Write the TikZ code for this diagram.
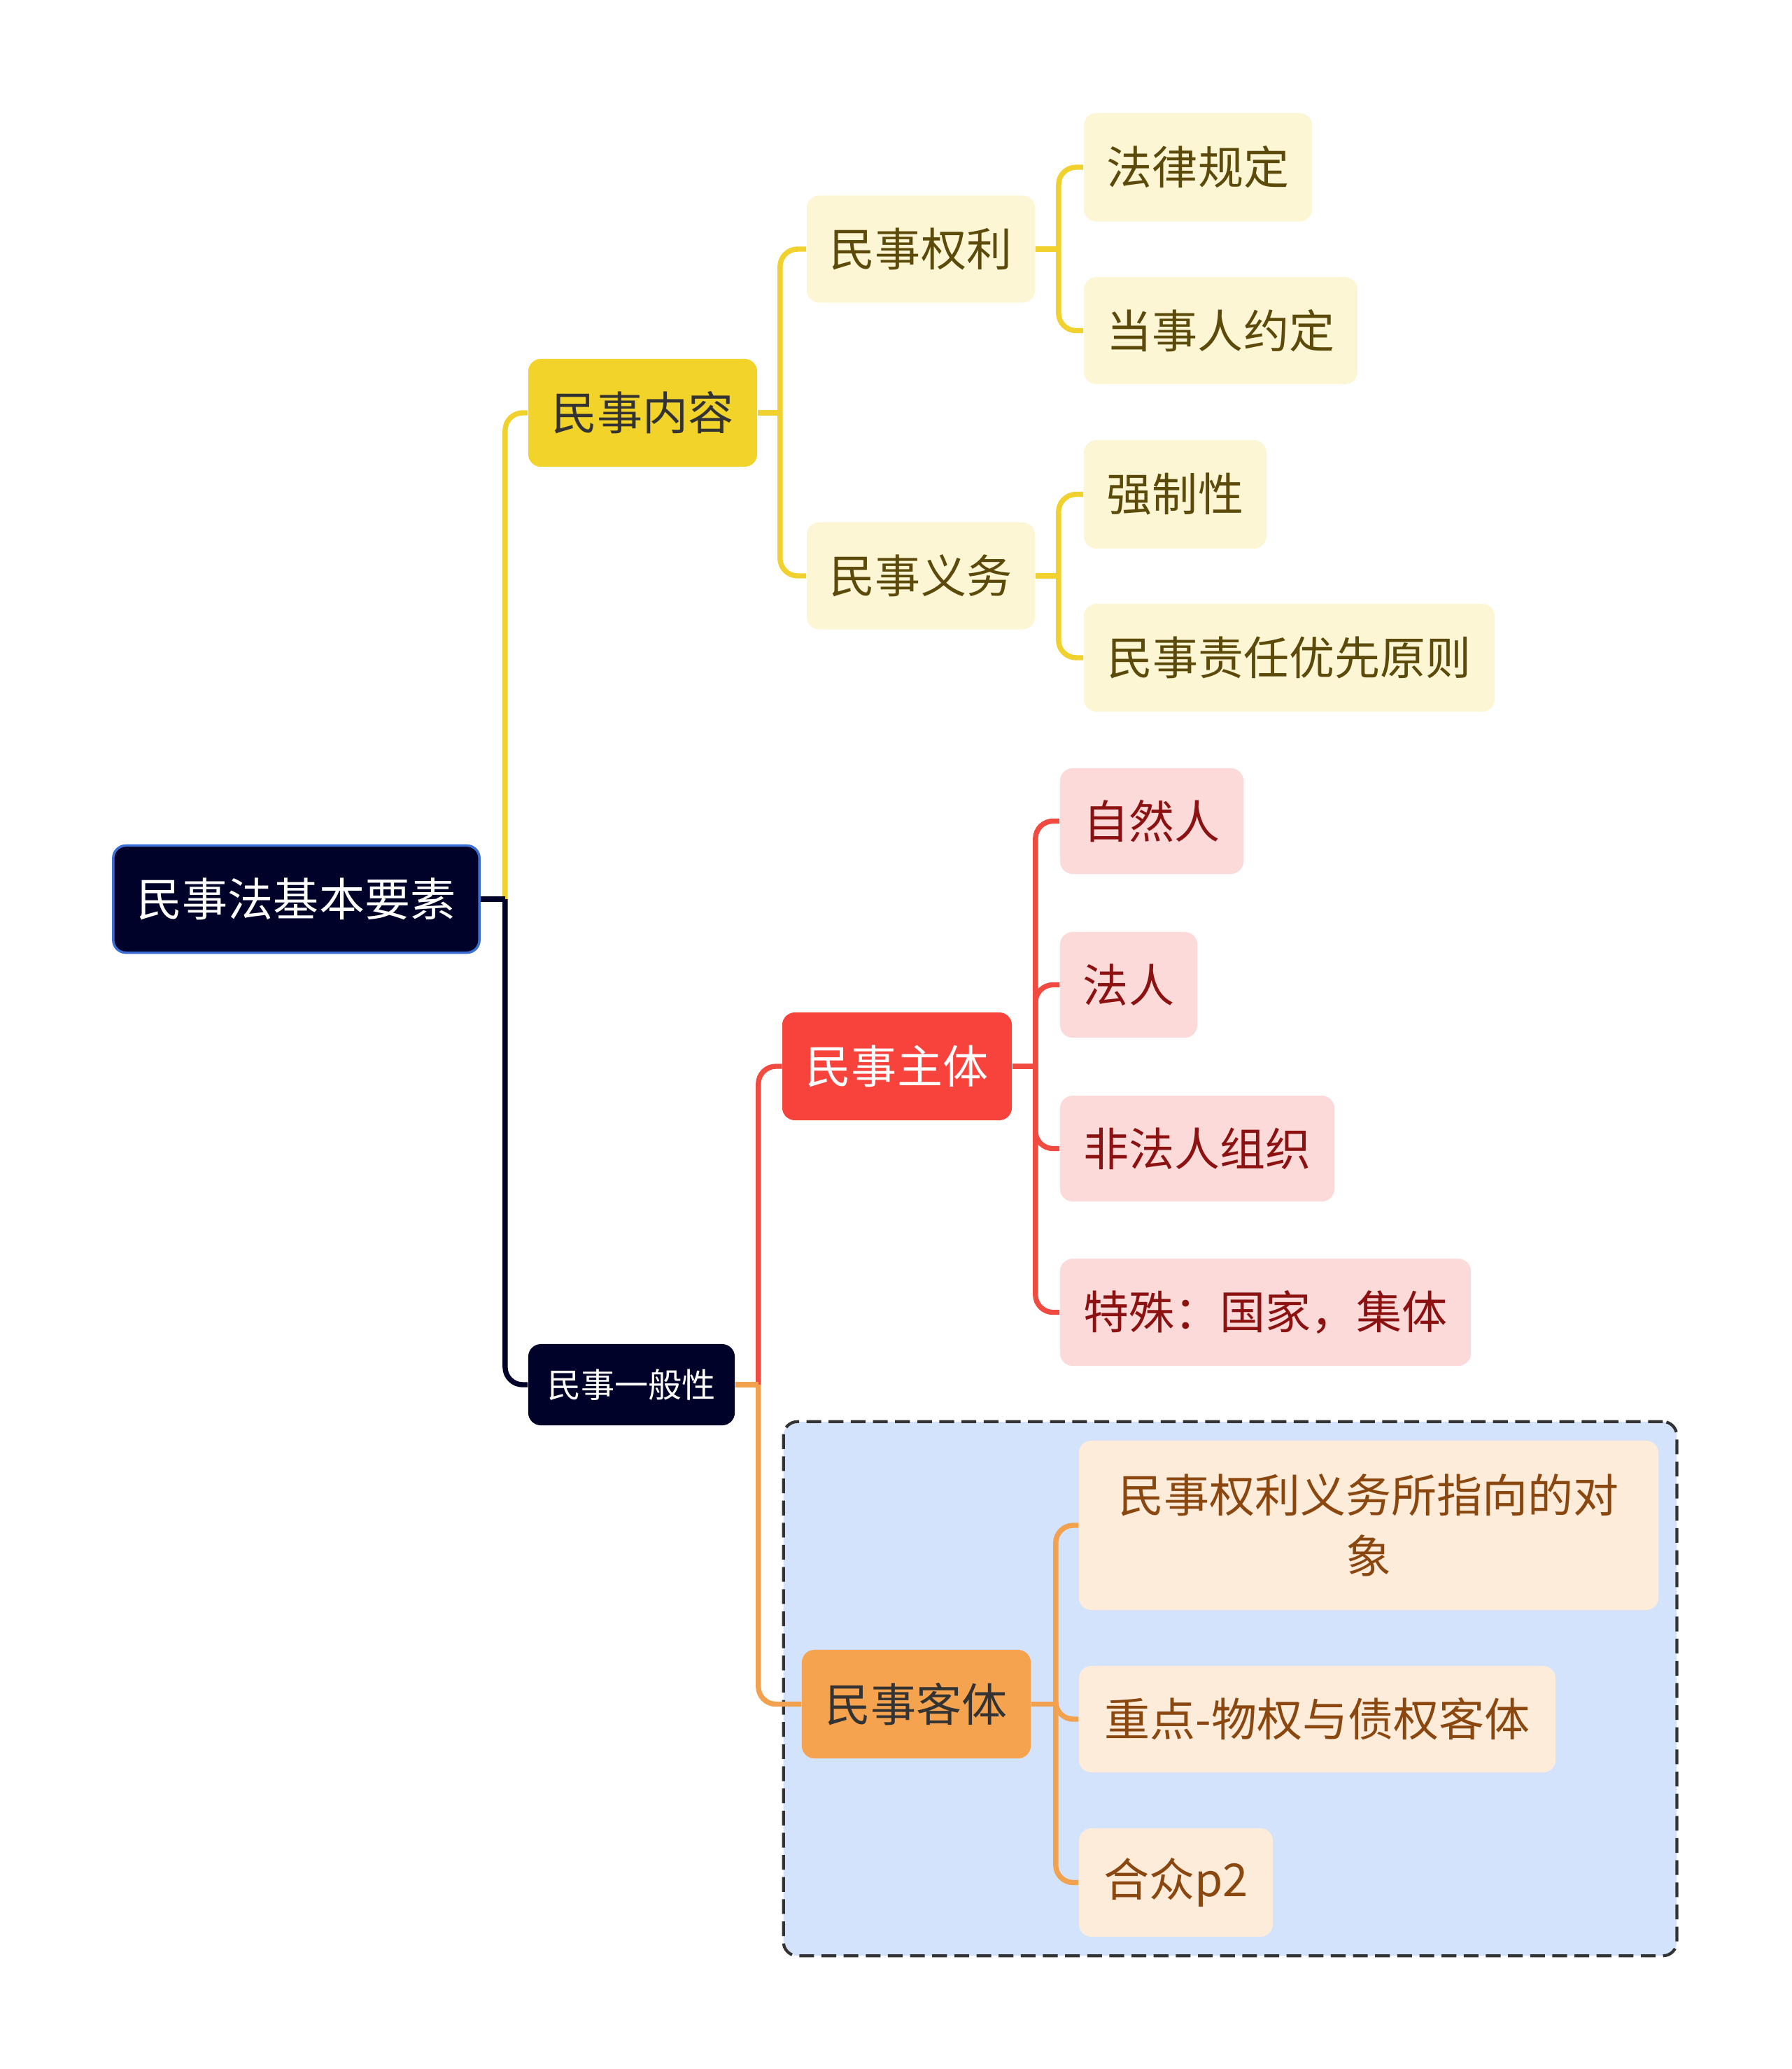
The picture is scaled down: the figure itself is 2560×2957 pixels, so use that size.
\documentclass[tikz,border=0pt]{standalone}
\usepackage{fontspec}
\newfontfamily\cjk{Noto Sans CJK SC}
\usetikzlibrary{positioning,calc}
\definecolor{rootfill}{HTML}{000229}
\definecolor{rootborder}{HTML}{3B6FD4}
\definecolor{maintext}{HTML}{333333}
\definecolor{ylwmain}{HTML}{F2D32A}
\definecolor{ylwsub}{HTML}{FCF6D5}
\definecolor{ylwtext}{HTML}{5C4A0A}
\definecolor{ylwline}{HTML}{F1D12E}
\definecolor{redmain}{HTML}{F7433C}
\definecolor{redsub}{HTML}{FCDADA}
\definecolor{redtext}{HTML}{8C1212}
\definecolor{redline}{HTML}{F04A41}
\definecolor{orgmain}{HTML}{F5A34E}
\definecolor{orgsub}{HTML}{FDECDA}
\definecolor{orgtext}{HTML}{8B4710}
\definecolor{orgline}{HTML}{F2A24F}
\definecolor{boxfill}{HTML}{D3E3FB}
\definecolor{boxdraw}{HTML}{333333}

\begin{document}
\begin{tikzpicture}[x=0.01cm, y=-0.01cm,
    topic/.style={rectangle, rounded corners=0.18cm, minimum height=1.53cm, inner sep=0pt,
        align=center, font=\cjk\fontsize{18.5}{24.7}\selectfont},
    rootbox/.style={topic, fill=rootfill, draw=rootborder, line width=1pt, text=white},
    darkbox/.style={topic, fill=rootfill, text=white, minimum height=1.16cm,
        font=\cjk\fontsize{13.7}{16}\selectfont},
    ylwbox/.style={topic, fill=ylwmain, text=maintext},
    ylwleaf/.style={topic, fill=ylwsub, text=ylwtext},
    redbox/.style={topic, fill=redmain, text=white},
    redleaf/.style={topic, fill=redsub, text=redtext},
    orgbox/.style={topic, fill=orgmain, text=maintext},
    orgleaf/.style={topic, fill=orgsub, text=orgtext},
    groupbox/.style={rectangle, rounded corners=0.2cm, fill=boxfill, draw=boxdraw,
        line width=1.2pt, dash pattern=on 6pt off 3pt, inner sep=0pt},
    link/.style={line width=2.1pt, rounded corners=0.25cm},
    darklink/.style={link, draw=rootfill},
    ylwlink/.style={link, draw=ylwline},
    redlink/.style={link, draw=redline},
    orglink/.style={link, draw=orgline}
]
    \useasboundingbox (0,0) rectangle (2560,2957);

    % Frame round the object branch
    \node[groupbox, minimum width=12.76cm, minimum height=7.63cm] (ketibox) at (1758,2413.5) {};

    % Root
    \node[rootbox, minimum width=5.23cm] (root) at (423.5,1285) {民事法基本要素};

    % Content branch
    \node[ylwbox, minimum width=3.27cm, minimum height=1.54cm] (neirong) at (918.5,590) {民事内容};
    \node[ylwleaf, minimum width=3.26cm] (quanli) at (1316,356) {民事权利};
    \node[ylwleaf, minimum width=3.26cm] (yiwu) at (1316,823) {民事义务};
    \node[ylwleaf, minimum width=3.26cm, minimum height=1.55cm] (falv) at (1712,239) {法律规定};
    \node[ylwleaf, minimum width=3.91cm] (yueding) at (1744.5,472.5) {当事人约定};
    \node[ylwleaf, minimum width=2.61cm, minimum height=1.55cm] (qiangzhi) at (1679.5,706.5) {强制性};
    \node[ylwleaf, minimum width=5.87cm, minimum height=1.54cm] (zeren) at (1842.5,940) {民事责任优先原则};

    % Generality branch
    \node[darkbox, minimum width=2.95cm] (yiban) at (902.5,1979) {民事一般性};
    \node[redbox, minimum width=3.28cm, minimum height=1.54cm] (zhuti) at (1282,1524) {民事主体};
    \node[redleaf, minimum width=2.62cm, minimum height=1.51cm] (ziran) at (1646,1173.5) {自然人};
    \node[redleaf, minimum width=1.96cm, minimum height=1.51cm] (faren) at (1613,1407.5) {法人};
    \node[redleaf, minimum width=3.92cm, minimum height=1.51cm] (feifaren) at (1711,1641.5) {非法人组织};
    \node[redleaf, minimum width=5.87cm] (teshu) at (1808.5,1875.5) {特殊：国家，集体};
    \node[orgbox, minimum width=3.27cm, minimum height=1.55cm] (keti) at (1309.5,2435.5) {民事客体};
    \node[orgleaf, minimum width=8.28cm, minimum height=2.42cm] (duixiang) at (1956,2180)
        {民事权利义务所指向的对\\象};
    \node[orgleaf, minimum width=6.81cm, minimum height=1.52cm] (zhongdian) at (1882.5,2457) {重点-物权与债权客体};
    \node[orgleaf, minimum width=2.77cm, minimum height=1.55cm] (hezhong) at (1680.5,2690.5) {合众p2};

    % Junctions
    \path (root.east) ++(35,0) coordinate (rootj);
    \path (neirong.east) ++(32,0) coordinate (neirongj);
    \path (quanli.east) ++(33,0) coordinate (quanlij);
    \path (yiwu.east) ++(33,0) coordinate (yiwuj);
    \path (yiban.east) ++(33,0) coordinate (yibanj);
    \path (zhuti.east) ++(33,0) coordinate (zhutij);
    \path (keti.east) ++(35,0) coordinate (ketij);

    % Connectors
    \draw[ylwlink] (rootj) |- (neirong.west);
    \draw[darklink] (rootj) |- (yiban.west);
    \draw[darklink] (root.east) -- (rootj);

    \draw[ylwlink] (neirong.east) -- (neirongj);
    \foreach \c in {quanli,yiwu}
        \draw[ylwlink] (neirongj) |- (\c.west);
    \draw[ylwlink] (quanli.east) -- (quanlij);
    \foreach \c in {falv,yueding}
        \draw[ylwlink] (quanlij) |- (\c.west);
    \draw[ylwlink] (yiwu.east) -- (yiwuj);
    \foreach \c in {qiangzhi,zeren}
        \draw[ylwlink] (yiwuj) |- (\c.west);

    \draw[redlink] (yibanj) |- (zhuti.west);
    \draw[orglink] (yibanj) |- (keti.west);
    \draw[orglink] (yiban.east) -- (yibanj);

    \draw[redlink] (zhuti.east) -- (zhutij);
    \foreach \c in {ziran,faren,feifaren,teshu}
        \draw[redlink] (zhutij) |- (\c.west);

    \draw[orglink] (keti.east) -- (ketij);
    \foreach \c in {duixiang,zhongdian,hezhong}
        \draw[orglink] (ketij) |- (\c.west);
\end{tikzpicture}
\end{document}
